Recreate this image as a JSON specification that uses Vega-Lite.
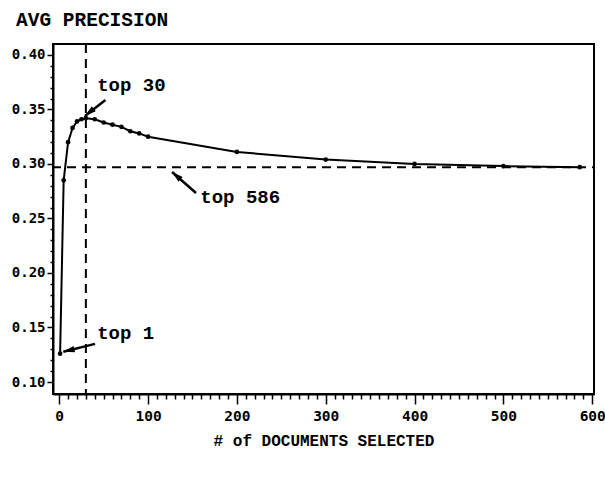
{
  "$schema": "https://vega.github.io/schema/vega-lite/v6.json",
  "width": 541,
  "height": 350,
  "autosize": {"type": "none"},
  "padding": {"left": 53, "top": 44, "right": 11, "bottom": 83},
  "background": "white",
  "title": {"text": "AVG PRECISION", "anchor": "start", "frame": "group", "dx": -37, "offset": 13, "font": "Liberation Mono", "fontSize": 19.5, "fontWeight": "bold", "color": "black"},
  "config": {
    "view": {"stroke": "black", "strokeWidth": 2},
    "axis": {"grid": false, "domainColor": "black", "domainWidth": 2, "tickColor": "black", "tickWidth": 1.5, "labelColor": "black", "labelFont": "DejaVu Sans Mono", "labelFontWeight": "bold", "labelFontSize": 14, "titleColor": "black", "labelFlush": false, "labelOverlap": false},
    "axisX": {"title": "# of DOCUMENTS SELECTED", "titleFont": "Liberation Mono", "titleFontSize": 16, "titleFontWeight": "bold", "titlePadding": 10, "labelPadding": 5, "labelFontSize": 14.5},
    "axisY": {"labelPadding": 2}
  },
  "datasets": {
    "curve": [
      {"docs": 1, "precision": 0.126},
      {"docs": 5, "precision": 0.285},
      {"docs": 10, "precision": 0.320},
      {"docs": 15, "precision": 0.333},
      {"docs": 20, "precision": 0.339},
      {"docs": 25, "precision": 0.341},
      {"docs": 30, "precision": 0.342},
      {"docs": 40, "precision": 0.341},
      {"docs": 50, "precision": 0.338},
      {"docs": 60, "precision": 0.336},
      {"docs": 70, "precision": 0.334},
      {"docs": 80, "precision": 0.330},
      {"docs": 90, "precision": 0.328},
      {"docs": 100, "precision": 0.325},
      {"docs": 200, "precision": 0.311},
      {"docs": 300, "precision": 0.304},
      {"docs": 400, "precision": 0.300},
      {"docs": 500, "precision": 0.298},
      {"docs": 586, "precision": 0.297}
    ],
    "refs": [
      {"refx": 30, "refy": 0.297}
    ],
    "notes": [
      {"label": "top 30", "tx": 42.7, "ty": 0.3724, "ax": 52, "ay": 0.3586, "px": 29, "py": 0.344},
      {"label": "top 586", "tx": 158.8, "ty": 0.2696, "ax": 154, "ay": 0.2733, "px": 127, "py": 0.2926},
      {"label": "top 1", "tx": 42.7, "ty": 0.1449, "ax": 40.3, "ay": 0.135, "px": 4.6, "py": 0.1277}
    ]
  },
  "layer": [
    {
      "data": {"name": "curve"},
      "mark": {"type": "line", "color": "black", "strokeWidth": 2, "point": {"filled": true, "color": "black", "size": 22, "opacity": 1}},
      "encoding": {
        "x": {"field": "docs", "type": "quantitative", "scale": {"domain": [-7, 602], "nice": false, "zero": false},
          "axis": {"title": "# of DOCUMENTS SELECTED",
            "values": [0,10,20,30,40,50,60,70,80,90,100,110,120,130,140,150,160,170,180,190,200,210,220,230,240,250,260,270,280,290,300,310,320,330,340,350,360,370,380,390,400,410,420,430,440,450,460,470,480,490,500,510,520,530,540,550,560,570,580,590,600],
            "labelExpr": "datum.value % 100 === 0 ? datum.label : ''",
            "tickSize": {"condition": {"test": "datum.value % 100 === 0", "value": 10}, "value": 5}}},
        "y": {"field": "precision", "type": "quantitative", "scale": {"domain": [0.089, 0.410], "nice": false, "zero": false},
          "axis": {"title": null, "format": ".2f",
            "values": [0.10,0.11,0.12,0.13,0.14,0.15,0.16,0.17,0.18,0.19,0.20,0.21,0.22,0.23,0.24,0.25,0.26,0.27,0.28,0.29,0.30,0.31,0.32,0.33,0.34,0.35,0.36,0.37,0.38,0.39,0.40],
            "labelExpr": "round(datum.value * 100) % 5 === 0 ? datum.label : ''",
            "tickSize": {"condition": {"test": "round(datum.value * 100) % 5 === 0", "value": 6}, "value": 3}}}
      }
    },
    {
      "data": {"name": "refs"},
      "mark": {"type": "rule", "color": "black", "strokeWidth": 2, "strokeDash": [9, 6], "strokeDashOffset": 7},
      "encoding": {"y": {"field": "refy", "type": "quantitative",
          "axis": {"title": null, "format": ".2f",
            "values": [0.10,0.11,0.12,0.13,0.14,0.15,0.16,0.17,0.18,0.19,0.20,0.21,0.22,0.23,0.24,0.25,0.26,0.27,0.28,0.29,0.30,0.31,0.32,0.33,0.34,0.35,0.36,0.37,0.38,0.39,0.40],
            "labelExpr": "round(datum.value * 100) % 5 === 0 ? datum.label : ''",
            "tickSize": {"condition": {"test": "round(datum.value * 100) % 5 === 0", "value": 6}, "value": 3}}}}
    },
    {
      "data": {"name": "refs"},
      "mark": {"type": "rule", "color": "black", "strokeWidth": 2, "strokeDash": [9, 6]},
      "encoding": {"x": {"field": "refx", "type": "quantitative",
          "axis": {"title": "# of DOCUMENTS SELECTED",
            "values": [0,10,20,30,40,50,60,70,80,90,100,110,120,130,140,150,160,170,180,190,200,210,220,230,240,250,260,270,280,290,300,310,320,330,340,350,360,370,380,390,400,410,420,430,440,450,460,470,480,490,500,510,520,530,540,550,560,570,580,590,600],
            "labelExpr": "datum.value % 100 === 0 ? datum.label : ''",
            "tickSize": {"condition": {"test": "datum.value % 100 === 0", "value": 10}, "value": 5}}}}
    },
    {
      "data": {"name": "notes"},
      "mark": {"type": "rule", "color": "black", "strokeWidth": 2.5},
      "encoding": {
        "x": {"field": "ax", "type": "quantitative",
          "axis": {"title": "# of DOCUMENTS SELECTED",
            "values": [0,10,20,30,40,50,60,70,80,90,100,110,120,130,140,150,160,170,180,190,200,210,220,230,240,250,260,270,280,290,300,310,320,330,340,350,360,370,380,390,400,410,420,430,440,450,460,470,480,490,500,510,520,530,540,550,560,570,580,590,600],
            "labelExpr": "datum.value % 100 === 0 ? datum.label : ''",
            "tickSize": {"condition": {"test": "datum.value % 100 === 0", "value": 10}, "value": 5}}},
        "y": {"field": "ay", "type": "quantitative",
          "axis": {"title": null, "format": ".2f",
            "values": [0.10,0.11,0.12,0.13,0.14,0.15,0.16,0.17,0.18,0.19,0.20,0.21,0.22,0.23,0.24,0.25,0.26,0.27,0.28,0.29,0.30,0.31,0.32,0.33,0.34,0.35,0.36,0.37,0.38,0.39,0.40],
            "labelExpr": "round(datum.value * 100) % 5 === 0 ? datum.label : ''",
            "tickSize": {"condition": {"test": "round(datum.value * 100) % 5 === 0", "value": 6}, "value": 3}}},
        "x2": {"field": "px"},
        "y2": {"field": "py"}
      }
    },
    {
      "data": {"name": "notes"},
      "transform": [{"filter": "datum.label === 'top 30'"}],
      "mark": {"type": "point", "filled": true, "color": "black", "opacity": 1, "size": 200, "angle": 231, "shape": "M0,0L0.45,1.6L-0.45,1.6Z"},
      "encoding": {
        "x": {"field": "px", "type": "quantitative",
          "axis": {"title": "# of DOCUMENTS SELECTED",
            "values": [0,10,20,30,40,50,60,70,80,90,100,110,120,130,140,150,160,170,180,190,200,210,220,230,240,250,260,270,280,290,300,310,320,330,340,350,360,370,380,390,400,410,420,430,440,450,460,470,480,490,500,510,520,530,540,550,560,570,580,590,600],
            "labelExpr": "datum.value % 100 === 0 ? datum.label : ''",
            "tickSize": {"condition": {"test": "datum.value % 100 === 0", "value": 10}, "value": 5}}},
        "y": {"field": "py", "type": "quantitative",
          "axis": {"title": null, "format": ".2f",
            "values": [0.10,0.11,0.12,0.13,0.14,0.15,0.16,0.17,0.18,0.19,0.20,0.21,0.22,0.23,0.24,0.25,0.26,0.27,0.28,0.29,0.30,0.31,0.32,0.33,0.34,0.35,0.36,0.37,0.38,0.39,0.40],
            "labelExpr": "round(datum.value * 100) % 5 === 0 ? datum.label : ''",
            "tickSize": {"condition": {"test": "round(datum.value * 100) % 5 === 0", "value": 6}, "value": 3}}}
      }
    },
    {
      "data": {"name": "notes"},
      "transform": [{"filter": "datum.label === 'top 586'"}],
      "mark": {"type": "point", "filled": true, "color": "black", "opacity": 1, "size": 200, "angle": 311, "shape": "M0,0L0.45,1.6L-0.45,1.6Z"},
      "encoding": {
        "x": {"field": "px", "type": "quantitative",
          "axis": {"title": "# of DOCUMENTS SELECTED",
            "values": [0,10,20,30,40,50,60,70,80,90,100,110,120,130,140,150,160,170,180,190,200,210,220,230,240,250,260,270,280,290,300,310,320,330,340,350,360,370,380,390,400,410,420,430,440,450,460,470,480,490,500,510,520,530,540,550,560,570,580,590,600],
            "labelExpr": "datum.value % 100 === 0 ? datum.label : ''",
            "tickSize": {"condition": {"test": "datum.value % 100 === 0", "value": 10}, "value": 5}}},
        "y": {"field": "py", "type": "quantitative",
          "axis": {"title": null, "format": ".2f",
            "values": [0.10,0.11,0.12,0.13,0.14,0.15,0.16,0.17,0.18,0.19,0.20,0.21,0.22,0.23,0.24,0.25,0.26,0.27,0.28,0.29,0.30,0.31,0.32,0.33,0.34,0.35,0.36,0.37,0.38,0.39,0.40],
            "labelExpr": "round(datum.value * 100) % 5 === 0 ? datum.label : ''",
            "tickSize": {"condition": {"test": "round(datum.value * 100) % 5 === 0", "value": 6}, "value": 3}}}
      }
    },
    {
      "data": {"name": "notes"},
      "transform": [{"filter": "datum.label === 'top 1'"}],
      "mark": {"type": "point", "filled": true, "color": "black", "opacity": 1, "size": 200, "angle": 256, "shape": "M0,0L0.45,1.6L-0.45,1.6Z"},
      "encoding": {
        "x": {"field": "px", "type": "quantitative",
          "axis": {"title": "# of DOCUMENTS SELECTED",
            "values": [0,10,20,30,40,50,60,70,80,90,100,110,120,130,140,150,160,170,180,190,200,210,220,230,240,250,260,270,280,290,300,310,320,330,340,350,360,370,380,390,400,410,420,430,440,450,460,470,480,490,500,510,520,530,540,550,560,570,580,590,600],
            "labelExpr": "datum.value % 100 === 0 ? datum.label : ''",
            "tickSize": {"condition": {"test": "datum.value % 100 === 0", "value": 10}, "value": 5}}},
        "y": {"field": "py", "type": "quantitative",
          "axis": {"title": null, "format": ".2f",
            "values": [0.10,0.11,0.12,0.13,0.14,0.15,0.16,0.17,0.18,0.19,0.20,0.21,0.22,0.23,0.24,0.25,0.26,0.27,0.28,0.29,0.30,0.31,0.32,0.33,0.34,0.35,0.36,0.37,0.38,0.39,0.40],
            "labelExpr": "round(datum.value * 100) % 5 === 0 ? datum.label : ''",
            "tickSize": {"condition": {"test": "round(datum.value * 100) % 5 === 0", "value": 6}, "value": 3}}}
      }
    },
    {
      "data": {"name": "notes"},
      "mark": {"type": "text", "align": "left", "baseline": "middle", "font": "Liberation Mono", "fontSize": 19, "fontWeight": "bold", "color": "black"},
      "encoding": {
        "x": {"field": "tx", "type": "quantitative",
          "axis": {"title": "# of DOCUMENTS SELECTED",
            "values": [0,10,20,30,40,50,60,70,80,90,100,110,120,130,140,150,160,170,180,190,200,210,220,230,240,250,260,270,280,290,300,310,320,330,340,350,360,370,380,390,400,410,420,430,440,450,460,470,480,490,500,510,520,530,540,550,560,570,580,590,600],
            "labelExpr": "datum.value % 100 === 0 ? datum.label : ''",
            "tickSize": {"condition": {"test": "datum.value % 100 === 0", "value": 10}, "value": 5}}},
        "y": {"field": "ty", "type": "quantitative",
          "axis": {"title": null, "format": ".2f",
            "values": [0.10,0.11,0.12,0.13,0.14,0.15,0.16,0.17,0.18,0.19,0.20,0.21,0.22,0.23,0.24,0.25,0.26,0.27,0.28,0.29,0.30,0.31,0.32,0.33,0.34,0.35,0.36,0.37,0.38,0.39,0.40],
            "labelExpr": "round(datum.value * 100) % 5 === 0 ? datum.label : ''",
            "tickSize": {"condition": {"test": "round(datum.value * 100) % 5 === 0", "value": 6}, "value": 3}}},
        "text": {"field": "label"}
      }
    }
  ]
}
